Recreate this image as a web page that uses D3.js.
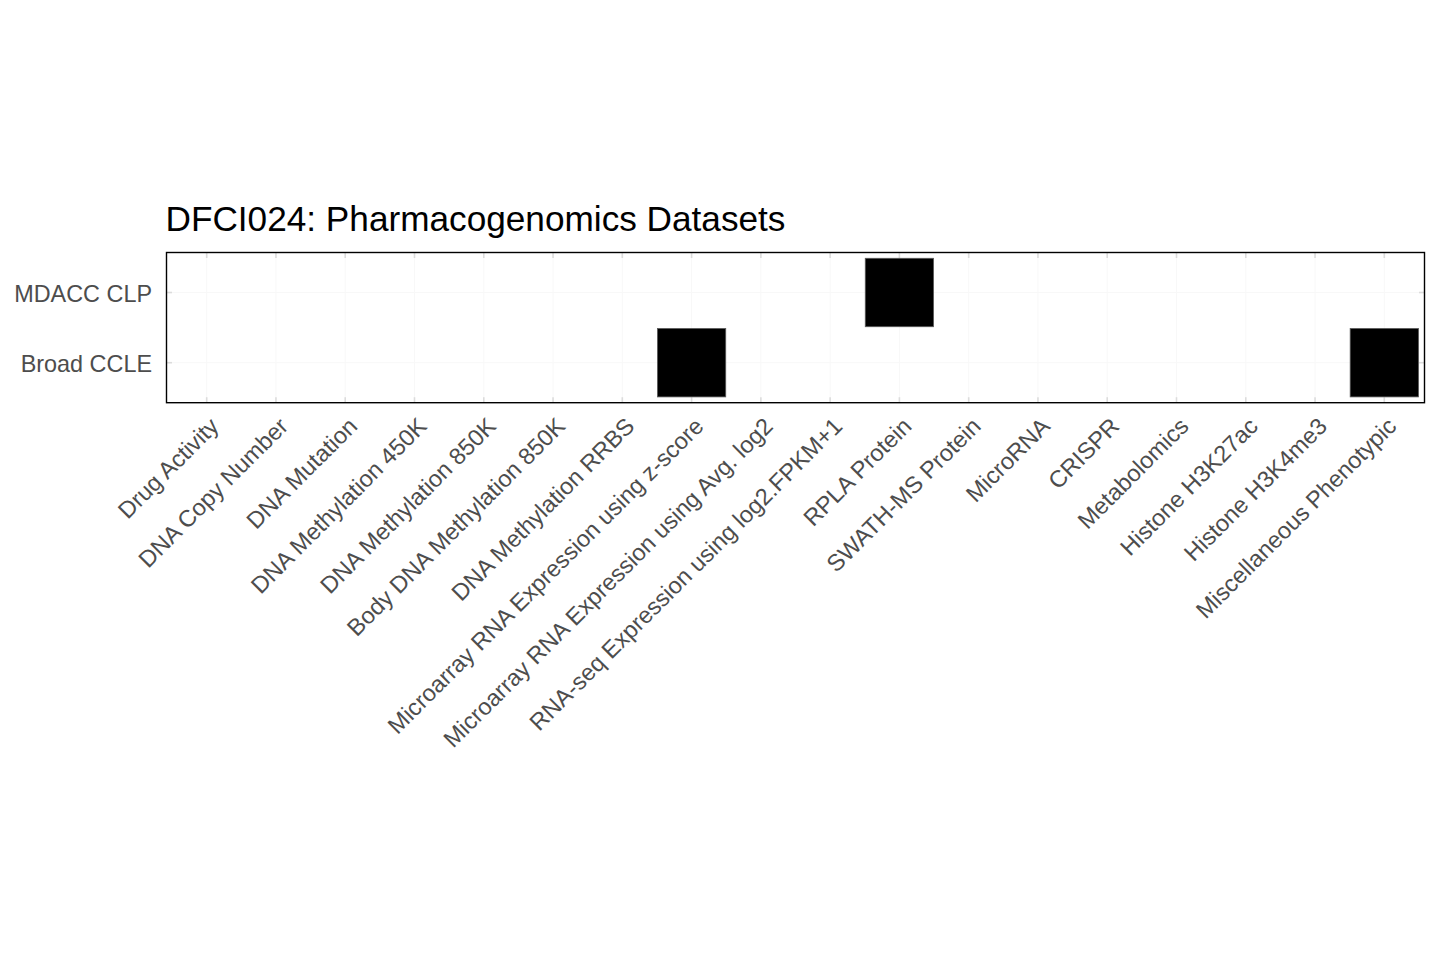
<!DOCTYPE html>
<html>
<head>
<meta charset="utf-8">
<script src="https://cdn.jsdelivr.net/npm/d3@7"></script>
<style>
  html, body { margin: 0; padding: 0; background: #ffffff; }
  svg { display: block; }
</style>
</head>
<body>
<svg id="chart" width="1440" height="960"></svg>
<script>
// ---- data ----
const categories = [
  "Drug Activity", "DNA Copy Number", "DNA Mutation", "DNA Methylation 450K",
  "DNA Methylation 850K", "Body DNA Methylation 850K", "DNA Methylation RRBS",
  "Microarray RNA Expression using z-score", "Microarray RNA Expression using Avg. log2",
  "RNA-seq Expression using log2.FPKM+1", "RPLA Protein", "SWATH-MS Protein",
  "MicroRNA", "CRISPR", "Metabolomics", "Histone H3K27ac", "Histone H3K4me3",
  "Miscellaneous Phenotypic"
];
const datasets = ["MDACC CLP", "Broad CCLE"];
const mdaccAvailable = [0,0,0,0,0,0,0,0,0,0,1,0,0,0,0,0,0,0];
const broadAvailable = [0,0,0,0,0,0,0,1,0,0,0,0,0,0,0,0,0,1];
const availability = { "MDACC CLP": mdaccAvailable, "Broad CCLE": broadAvailable };
const titleText = "DFCI024: Pharmacogenomics Datasets";

// ---- layout ----
const panel = { left: 166.5, right: 1424.5, top: 252.5, bottom: 402.7 };
const svg = d3.select("#chart");
const font = "'Liberation Sans', Arial, Helvetica, sans-serif";

const x = d3.scalePoint().domain(categories).range([panel.left, panel.right]).padding(0.58);
const y = d3.scalePoint().domain(datasets).range([panel.top, panel.bottom]).padding(0.57);
const xStep = x.step(), yStep = y.step();

// panel background
svg.append("rect")
  .attr("x", panel.left).attr("y", panel.top)
  .attr("width", panel.right - panel.left).attr("height", panel.bottom - panel.top)
  .attr("fill", "#ffffff");

// faint grid
const grid = svg.append("g");
grid.selectAll("line.vx").data(categories).join("line")
  .attr("x1", d => x(d)).attr("x2", d => x(d))
  .attr("y1", panel.top).attr("y2", panel.bottom)
  .attr("stroke", "#f8f8f8").attr("stroke-width", 1);
grid.selectAll("line.hy").data(datasets).join("line")
  .attr("y1", d => y(d)).attr("y2", d => y(d))
  .attr("x1", panel.left).attr("x2", panel.right)
  .attr("stroke", "#f8f8f8").attr("stroke-width", 1);

// inner tick marks
const tickLen = 5.5, tickCol = "#dcdcdc";
const ticks = svg.append("g").attr("stroke", tickCol).attr("stroke-width", 1.6);
categories.forEach(c => {
  ticks.append("line").attr("x1", x(c)).attr("x2", x(c)).attr("y1", panel.top).attr("y2", panel.top + tickLen);
  ticks.append("line").attr("x1", x(c)).attr("x2", x(c)).attr("y1", panel.bottom).attr("y2", panel.bottom - tickLen);
});
datasets.forEach(d => {
  ticks.append("line").attr("y1", y(d)).attr("y2", y(d)).attr("x1", panel.left).attr("x2", panel.left + tickLen);
  ticks.append("line").attr("y1", y(d)).attr("y2", y(d)).attr("x1", panel.right).attr("x2", panel.right - tickLen);
});

// tiles
const cells = [];
datasets.forEach(ds => availability[ds].forEach((v, i) => { if (v) cells.push({ ds, cat: categories[i] }); }));
const tw = xStep * 0.986, th = yStep * 0.975;
svg.append("g").selectAll("rect").data(cells).join("rect")
  .attr("x", d => x(d.cat) - tw / 2)
  .attr("y", d => y(d.ds) - th / 2)
  .attr("width", tw).attr("height", th)
  .attr("fill", "#000000")
  .attr("stroke", "#5a5a5a").attr("stroke-width", 0.8);

// panel border
svg.append("rect")
  .attr("x", panel.left).attr("y", panel.top)
  .attr("width", panel.right - panel.left).attr("height", panel.bottom - panel.top)
  .attr("fill", "none").attr("stroke", "#000000").attr("stroke-width", 1.4);

// y axis
const yAxis = svg.append("g")
  .attr("transform", `translate(${panel.left},0)`)
  .call(d3.axisLeft(y).tickSize(0).tickPadding(14.5));
yAxis.select(".domain").remove();
yAxis.selectAll("text")
  .attr("font-family", font).attr("font-size", 23.4)
  .attr("fill", "#4d4d4d").attr("dy", "0.38em");

// x axis
const xAxis = svg.append("g")
  .attr("transform", `translate(0,${panel.bottom})`)
  .call(d3.axisBottom(x).tickSize(0));
xAxis.select(".domain").remove();
xAxis.selectAll(".tick text")
  .attr("font-family", font).attr("font-size", 23.5)
  .attr("fill", "#4d4d4d")
  .attr("text-anchor", "end")
  .attr("x", 0).attr("y", 0).attr("dy", 0)
  .attr("transform", "translate(13,25) rotate(-45)");

// title
svg.append("text")
  .attr("x", panel.left - 1).attr("y", 230.5)
  .attr("font-family", font).attr("font-size", 35.2)
  .attr("fill", "#000000")
  .text(titleText);
</script>
</body>
</html>
